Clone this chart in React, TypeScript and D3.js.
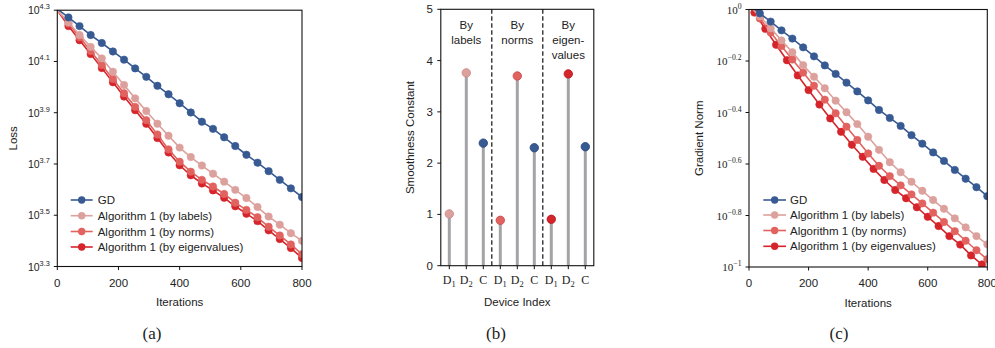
import React from 'react';
import * as d3 from 'd3';

// ---------------- data ----------------
const ITERS = [0, 36.4, 72.7, 109.1, 145.5, 181.8, 218.2, 254.5, 290.9, 327.3, 363.6, 400, 436.4, 472.7, 509.1, 545.5, 581.8, 618.2, 654.5, 690.9, 727.3, 763.6, 800];
const ITERS_SHIFTED = [0, 18.2, 54.5, 90.9, 127.3, 163.6, 200, 236.4, 272.7, 309.1, 345.5, 381.8, 418.2, 454.5, 490.9, 527.3, 563.6, 600, 636.4, 672.7, 709.1, 745.5, 781.8, 800];

// (a) loss, log10 values
const LOSS_GD = [4.305, 4.272, 4.238, 4.203, 4.172, 4.139, 4.107, 4.073, 4.040, 4.005, 3.972, 3.937, 3.901, 3.865, 3.837, 3.804, 3.770, 3.736, 3.705, 3.672, 3.638, 3.605, 3.571];
const LOSS_LABELS = [4.300, 4.253, 4.203, 4.157, 4.112, 4.060, 4.008, 3.956, 3.907, 3.857, 3.810, 3.764, 3.727, 3.694, 3.662, 3.631, 3.599, 3.567, 3.532, 3.495, 3.463, 3.430, 3.400];
const LOSS_NORMS = [4.300, 4.248, 4.194, 4.141, 4.086, 4.032, 3.976, 3.923, 3.871, 3.815, 3.757, 3.709, 3.670, 3.638, 3.612, 3.583, 3.549, 3.521, 3.492, 3.455, 3.421, 3.386, 3.348];
const LOSS_EIGEN = [4.300, 4.238, 4.183, 4.129, 4.074, 4.019, 3.963, 3.910, 3.857, 3.801, 3.745, 3.695, 3.656, 3.624, 3.597, 3.568, 3.535, 3.506, 3.477, 3.441, 3.407, 3.372, 3.333];

// (c) gradient norm, log10 values
const GRAD_GD = [0.019, -0.015, -0.047, -0.081, -0.113, -0.147, -0.182, -0.217, -0.250, -0.284, -0.318, -0.353, -0.390, -0.421, -0.452, -0.488, -0.521, -0.555, -0.588, -0.623, -0.657, -0.690, -0.725];
const GRAD_LABELS = [0.02, -0.026, -0.073, -0.120, -0.166, -0.216, -0.261, -0.306, -0.354, -0.399, -0.445, -0.494, -0.545, -0.593, -0.632, -0.669, -0.704, -0.740, -0.774, -0.811, -0.846, -0.880, -0.912];
const GRAD_NORMS = [0.02, -0.035, -0.089, -0.142, -0.194, -0.245, -0.296, -0.350, -0.403, -0.455, -0.507, -0.559, -0.607, -0.647, -0.683, -0.718, -0.753, -0.789, -0.825, -0.861, -0.898, -0.935, -0.970];
const GRAD_EIGEN = [0.02, -0.012, -0.075, -0.137, -0.197, -0.256, -0.313, -0.369, -0.423, -0.475, -0.525, -0.572, -0.619, -0.662, -0.701, -0.733, -0.768, -0.805, -0.841, -0.880, -0.913, -0.955, -0.990, -1.008];

// (b) smoothness constants: [D1, D2, C]
const SMOOTH_LABELS = [1.01, 3.76, 2.39];
const SMOOTH_NORMS = [0.885, 3.70, 2.30];
const SMOOTH_EIGEN = [0.905, 3.74, 2.32];
const GROUP_TITLES = [['By', 'labels'], ['By', 'norms'], ['By', 'eigen-', 'values']];
const DEVICE_TICKS = [['D', '1'], ['D', '2'], ['C', '']];

const SERIES_NAMES = ['GD', 'Algorithm 1 (by labels)', 'Algorithm 1 (by norms)', 'Algorithm 1 (by eigenvalues)'];
const LOSS_TICKS = [3.3, 3.5, 3.7, 3.9, 4.1, 4.3];
const GRAD_TICKS = [-1, -0.8, -0.6, -0.4, -0.2, 0];
const X_TICKS = [0, 200, 400, 600, 800];
const SMOOTH_TICKS = [0, 1, 2, 3, 4, 5];

// ---------------- styles ----------------
const COLORS = ['#375a93', '#dca19d', '#e2625f', '#d5252b'];
const EDGE_B = ['#2b4a7c', '#c98a86', '#c94d4a', '#b51c22'];
const STEM = '#a4a4a8';
const SANS = '"Liberation Sans", Arial, Helvetica, sans-serif';
const SERIF = '"Liberation Serif", "DejaVu Serif", "Times New Roman", serif';
const FS = 11.5;

type Series = { iters: number[]; vals: number[]; color: string; tail?: boolean };

function LinePanel(props: {
  id: string; x0: number; x1: number; y0: number; y1: number;
  lo: number; hi: number; yTicks: number[]; supFmt: (v: number) => string; tickFont: string; tickFs: number;
  series: Series[]; ylabel: string; ylabelX: number;
  legend: { lx0: number; lx1: number; tx: number; rows: number[] };
}) {
  const { id, x0, x1, y0, y1, lo, hi } = props;
  const x = d3.scaleLinear().domain([0, 800]).range([x0, x1]);
  const y = d3.scaleLog().domain([Math.pow(10, lo), Math.pow(10, hi)]).range([y1, y0]);
  const line = d3.line<[number, number]>().x(d => x(d[0])).y(d => y(Math.pow(10, d[1])));
  const order = [3, 2, 1, 0];
  return (
    <g>
      <defs>
        <clipPath id={id}>
          <rect x={x0} y={y0} width={x1 - x0} height={y1 - y0} />
        </clipPath>
      </defs>
      <g clipPath={`url(#${id})`}>
        {order.map(si => {
          const s = props.series[si];
          const pts: [number, number][] = s.iters.map((it, i) => [it, s.vals[i]]);
          const marks = pts.slice(1, s.tail ? pts.length - 1 : pts.length);
          return (
            <g key={si}>
              <path d={line(pts) || ''} fill="none" stroke={s.color} strokeWidth={1.6} />
              {marks.map((p, i) => (
                <circle key={i} cx={x(p[0])} cy={y(Math.pow(10, p[1]))} r={3.7} fill={s.color} stroke={s.color} strokeWidth={0.6} />
              ))}
            </g>
          );
        })}
      </g>
      <rect x={x0} y={y0} width={x1 - x0} height={y1 - y0} fill="none" stroke="#111" strokeWidth={1.1} />
      {props.yTicks.map(t => {
        const yy = y(Math.pow(10, t));
        return (
          <g key={t}>
            <line x1={x0 - 3.5} x2={x0} y1={yy} y2={yy} stroke="#111" strokeWidth={1} />
            <text x={x0 - 7.5} y={yy + 4} textAnchor="end" fontFamily={props.tickFont} fontSize={props.tickFs} fill="#222">
              10<tspan dy={-5} fontSize={props.tickFs * 0.7}>{props.supFmt(t)}</tspan>
            </text>
          </g>
        );
      })}
      {X_TICKS.map(t => (
        <g key={t}>
          <line x1={x(t)} x2={x(t)} y1={y1} y2={y1 + 3.5} stroke="#111" strokeWidth={1} />
          <text x={x(t)} y={y1 + 20} textAnchor="middle" fontFamily={SANS} fontSize={FS} fill="#222">{t}</text>
        </g>
      ))}
      <text x={(x0 + x1) / 2} y={y1 + 39.5} textAnchor="middle" fontFamily={SANS} fontSize={FS} fill="#222">Iterations</text>
      <text transform={`translate(${props.ylabelX},${(y0 + y1) / 2}) rotate(-90)`} textAnchor="middle" fontFamily={SANS} fontSize={FS} fill="#222">{props.ylabel}</text>
      {SERIES_NAMES.map((n, i) => {
        const ry = props.legend.rows[i];
        const c = props.series[i].color;
        return (
          <g key={n}>
            <line x1={props.legend.lx0} x2={props.legend.lx1} y1={ry} y2={ry} stroke={c} strokeWidth={1.6} />
            <circle cx={(props.legend.lx0 + props.legend.lx1) / 2} cy={ry} r={3.7} fill={c} />
            <text x={props.legend.tx} y={ry + 4} fontFamily={SANS} fontSize={FS} fill="#222">{n}</text>
          </g>
        );
      })}
    </g>
  );
}

function StemPanel() {
  const x0 = 440.8, x1 = 593.8, y0 = 9.3, y1 = 265.7;
  const x = d3.scaleLinear().domain([-0.5, 8.5]).range([x0, x1]);
  const y = d3.scaleLinear().domain([0, 5]).range([y1, y0]);
  const groups = [SMOOTH_LABELS, SMOOTH_NORMS, SMOOTH_EIGEN];
  const gColors = [1, 2, 3];
  const items: { pos: number; v: number; c: string; e: string }[] = [];
  groups.forEach((vals, g) => {
    vals.forEach((v, j) => {
      const ci = j === 2 ? 0 : gColors[g];
      items.push({ pos: g * 3 + j, v, c: COLORS[ci], e: EDGE_B[ci] });
    });
  });
  return (
    <g>
      {items.map(it => (
        <line key={'s' + it.pos} x1={x(it.pos)} x2={x(it.pos)} y1={y(0)} y2={y(it.v)} stroke={STEM} strokeWidth={3} />
      ))}
      {items.map(it => (
        <circle key={'m' + it.pos} cx={x(it.pos)} cy={y(it.v)} r={4.2} fill={it.c} stroke={it.e} strokeWidth={0.9} />
      ))}
      {[2.5, 5.5].map(p => (
        <line key={p} x1={x(p)} x2={x(p)} y1={y0} y2={y1} stroke="#111" strokeWidth={1.2} strokeDasharray="4.4,2.6" />
      ))}
      <rect x={x0} y={y0} width={x1 - x0} height={y1 - y0} fill="none" stroke="#111" strokeWidth={1.1} />
      {GROUP_TITLES.map((lines, g) => (
        <g key={g}>
          {lines.map((l, k) => (
            <text key={k} x={x(g * 3 + 1)} y={29 + k * 15} textAnchor="middle" fontFamily={SANS} fontSize={FS} fill="#222">{l}</text>
          ))}
        </g>
      ))}
      {SMOOTH_TICKS.map(t => (
        <g key={t}>
          <line x1={x0 - 3.5} x2={x0} y1={y(t)} y2={y(t)} stroke="#111" strokeWidth={1} />
          <text x={x0 - 8} y={y(t) + 4} textAnchor="end" fontFamily={SANS} fontSize={FS} fill="#222">{t}</text>
        </g>
      ))}
      {d3.range(9).map(p => {
        const tk = DEVICE_TICKS[p % 3];
        return (
          <g key={p}>
            <line x1={x(p)} x2={x(p)} y1={y1} y2={y1 + 3.5} stroke="#111" strokeWidth={1} />
            <text x={x(p)} y={y1 + 18.5} textAnchor="middle" fontFamily={SERIF} fontSize={12} fill="#222">
              {tk[0]}{tk[1] ? <tspan dy={2.5} fontSize={8.5}>{tk[1]}</tspan> : null}
            </text>
          </g>
        );
      })}
      <text x={(x0 + x1) / 2} y={y1 + 40} textAnchor="middle" fontFamily={SANS} fontSize={FS} fill="#222">Device Index</text>
      <text transform={`translate(413.5,${(y0 + y1) / 2}) rotate(-90)`} textAnchor="middle" fontFamily={SANS} fontSize={FS} fill="#222">Smoothness Constant</text>
    </g>
  );
}

export default function App() {
  const lossSeries: Series[] = [
    { iters: ITERS, vals: LOSS_GD, color: COLORS[0] },
    { iters: ITERS, vals: LOSS_LABELS, color: COLORS[1] },
    { iters: ITERS, vals: LOSS_NORMS, color: COLORS[2] },
    { iters: ITERS, vals: LOSS_EIGEN, color: COLORS[3] },
  ];
  const gradSeries: Series[] = [
    { iters: ITERS, vals: GRAD_GD, color: COLORS[0] },
    { iters: ITERS, vals: GRAD_LABELS, color: COLORS[1] },
    { iters: ITERS, vals: GRAD_NORMS, color: COLORS[2] },
    { iters: ITERS_SHIFTED, vals: GRAD_EIGEN, color: COLORS[3], tail: true },
  ];
  const fmtLoss = (v: number) => v.toFixed(1);
  const fmtGrad = (v: number) => (v === 0 ? '0' : v === -1 ? '\u22121' : '\u2212' + Math.abs(v).toFixed(1));
  return (
    <svg width={995} height={348} style={{ position: 'absolute', left: 0, top: 0, background: '#fff' }}>
      <rect width={995} height={348} fill="#fff" />
      <LinePanel id="clipA" x0={57.3} x1={302} y0={10.2} y1={266.5} lo={3.3} hi={4.3}
        yTicks={LOSS_TICKS} supFmt={fmtLoss} tickFont={SANS} tickFs={10.5}
        series={lossSeries} ylabel="Loss" ylabelX={17}
        legend={{ lx0: 70.7, lx1: 92.7, tx: 97.7, rows: [200, 215.7, 231.5, 247] }} />
      <StemPanel />
      <LinePanel id="clipC" x0={749} x1={987.3} y0={9.5} y1={267} lo={-1} hi={0}
        yTicks={GRAD_TICKS} supFmt={fmtGrad} tickFont={SERIF} tickFs={11}
        series={gradSeries} ylabel="Gradient Norm" ylabelX={703}
        legend={{ lx0: 763.3, lx1: 786, tx: 790, rows: [200, 215, 230.5, 246.3] }} />
      <text x={152} y={339} textAnchor="middle" fontFamily={SERIF} fontSize={17} fill="#222">(a)</text>
      <text x={496} y={339} textAnchor="middle" fontFamily={SERIF} fontSize={17} fill="#222">(b)</text>
      <text x={839} y={339} textAnchor="middle" fontFamily={SERIF} fontSize={17} fill="#222">(c)</text>
    </svg>
  );
}
